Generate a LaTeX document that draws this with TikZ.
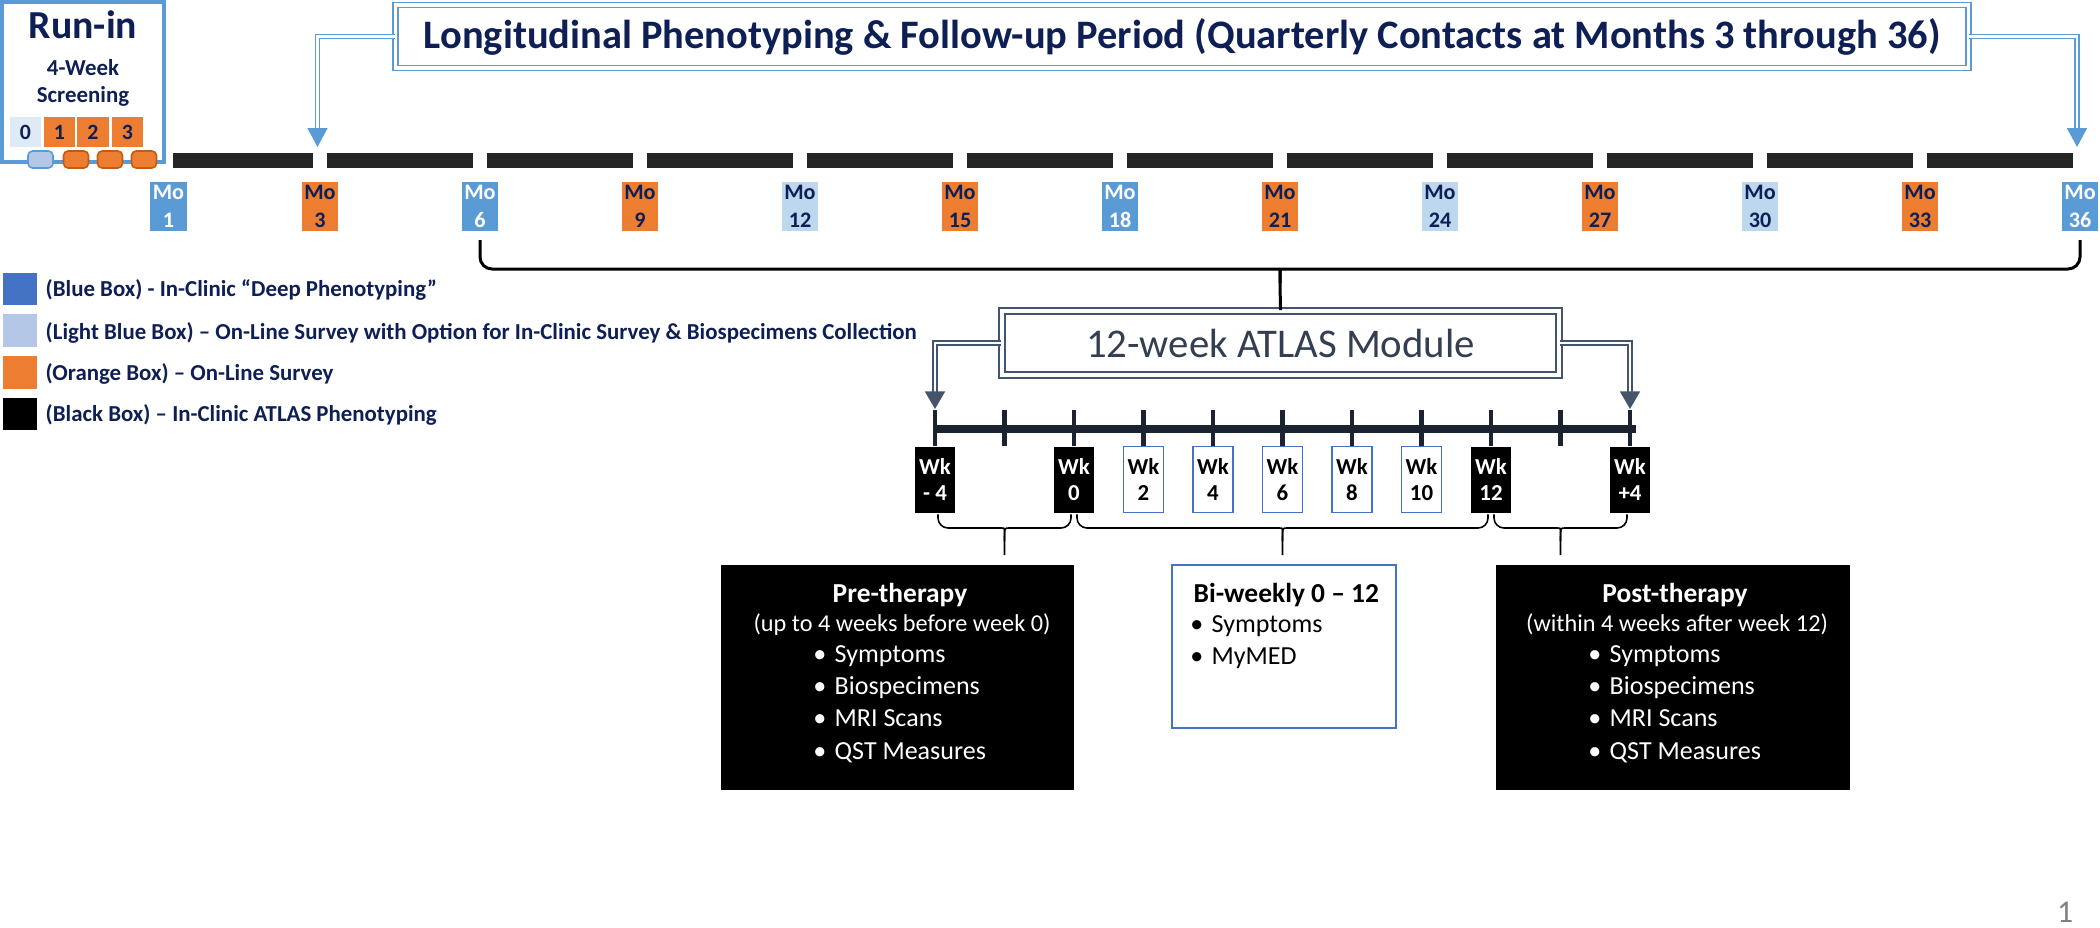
\documentclass[tikz,border=0pt]{standalone}
\usepackage{fontspec}
\setmainfont{Carlito}
\usetikzlibrary{arrows.meta,calc}
\definecolor{navy}{HTML}{0E1F55}
\definecolor{mblue}{HTML}{5B9BD5}
\definecolor{lblue}{HTML}{BDD7EE}
\definecolor{morange}{HTML}{ED7D31}
\definecolor{borange}{HTML}{C55A11}
\definecolor{legblue}{HTML}{4472C4}
\definecolor{leglight}{HTML}{B4C7E7}
\definecolor{pale}{HTML}{DEEBF7}
\definecolor{slate}{HTML}{44546A}
\definecolor{slatetext}{HTML}{333F50}
\definecolor{barfill}{HTML}{262626}
\definecolor{timebar}{HTML}{1B2230}
\newcommand{\fsz}[2]{\fontsize{#1}{#2}\selectfont}
\newcommand{\bl}{\llap{•\hspace{2.4pt}}}
\begin{document}
\begin{tikzpicture}[x=0.01cm, y=-0.01cm,
  mo/.style={minimum width=0.36cm, minimum height=0.48cm, inner sep=0pt, align=center, font=\fsz{6.3pt}{8pt}\bfseries},
  moB/.style={mo, fill=mblue, text=white},
  moO/.style={mo, fill=morange, text=navy},
  moL/.style={mo, fill=lblue, text=navy},
  wk/.style={minimum width=0.40cm, minimum height=0.66cm, inner sep=0pt, align=center, font=\fsz{6.5pt}{7.4pt}\bfseries},
  wkB/.style={wk, fill=black, text=white},
  wkW/.style={wk, fill=white, draw=legblue, line width=0.4pt, text=black},
  rnum/.style={minimum width=0.31cm, minimum height=0.30cm, inner sep=0pt, font=\fsz{6.2pt}{7pt}\bfseries, text=navy},
  rsm/.style={minimum width=0.25cm, minimum height=0.17cm, inner sep=0pt, rounded corners=1.3pt, line width=0.45pt},
  barstyle/.style={fill=barfill},
  dblB/.style={draw=mblue, double=white, double distance=0.7pt, line width=0.4pt},
  dblS/.style={draw=slate, double=white, double distance=0.7pt, line width=0.4pt},
  tipB/.style={-{Triangle[width=5.7pt,length=5.4pt]}, draw=mblue, fill=mblue, line width=0.4pt},
  tipS/.style={-{Triangle[width=5.7pt,length=5pt]}, draw=slate, fill=slate, line width=0.4pt},
  brc/.style={line width=0.85pt, rounded corners=0.12cm},
  brcs/.style={line width=0.45pt, rounded corners=0.1cm},
  legsq/.style={minimum width=0.34cm, minimum height=0.32cm, inner sep=0pt},
  legtxt/.style={anchor=base west, inner sep=0pt, font=\fsz{6.5pt}{8pt}\bfseries, text=navy},
  hdr/.style={anchor=base, inner sep=0pt, font=\fsz{7.8pt}{9pt}\bfseries},
  sbt/.style={anchor=base, inner sep=0pt, font=\fsz{6.9pt}{8pt}},
  itm/.style={anchor=base west, inner sep=0pt, font=\fsz{7.4pt}{9pt}},
  tick/.style={line width=1.4pt, draw=timebar}
]
\useasboundingbox (0,0) rectangle (2100,927);

% ---------- Run-in ----------
\node[draw=mblue, line width=1.14pt, minimum width=1.62cm, minimum height=1.595cm, inner sep=0pt] (runin) at (83,81.75) {};
\node[anchor=base, inner sep=0pt, font=\fsz{11.3pt}{13pt}\bfseries, text=navy] (rtitle) at (83,38.5) {Run-in};
\node[anchor=base, inner sep=0pt, font=\fsz{6.5pt}{8pt}\bfseries, text=navy] (r4w) at (83,75) {4-Week};
\node[anchor=base, inner sep=0pt, font=\fsz{6.5pt}{8pt}\bfseries, text=navy] (rscr) at (83,102) {Screening};
\node[rnum, fill=pale] (r0) at (25.5,132) {0};
\node[rnum, fill=morange] (r1) at (59.5,132) {1};
\node[rnum, fill=morange] (r2) at (93,132) {2};
\node[rnum, fill=morange] (r3) at (127.5,132) {3};
\node[rsm, fill=leglight, draw=mblue] (s0) at (40.5,159.5) {};
\node[rsm, fill=morange, draw=borange] (s1) at (76,159.5) {};
\node[rsm, fill=morange, draw=borange] (s2) at (110,159.5) {};
\node[rsm, fill=morange, draw=borange] (s3) at (144,159.5) {};

% ---------- month bars ----------
\fill[barstyle] (173,153) rectangle (313,168);
\foreach \i in {0,...,10} {\fill[barstyle] ({327+160*\i},153) rectangle ({473+160*\i},168);}

% ---------- month labels ----------
\node[moB] (mo1) at (168.5,206.5) {Mo\\1};
\node[moO] (mo3) at (320,206.5) {Mo\\3};
\node[moB] (mo6) at (480,206.5) {Mo\\6};
\node[moO] (mo9) at (640,206.5) {Mo\\9};
\node[moL] (mo12) at (800,206.5) {Mo\\12};
\node[moO] (mo15) at (960,206.5) {Mo\\15};
\node[moB] (mo18) at (1120,206.5) {Mo\\18};
\node[moO] (mo21) at (1280,206.5) {Mo\\21};
\node[moL] (mo24) at (1440,206.5) {Mo\\24};
\node[moO] (mo27) at (1600,206.5) {Mo\\27};
\node[moL] (mo30) at (1760,206.5) {Mo\\30};
\node[moO] (mo33) at (1920,206.5) {Mo\\33};
\node[moB] (mo36) at (2080,206.5) {Mo\\36};

% ---------- title ----------
\node[dblB, line width=0.45pt, double distance=1pt, fill=white, minimum width=15.72cm, minimum height=0.63cm, inner sep=0pt,
      font=\fsz{11.5pt}{13pt}\bfseries, text=navy] (title) at (1182,36.5)
      {Longitudinal Phenotyping \& Follow-up Period (Quarterly Contacts at Months 3 through 36)};
\coordinate (tlb) at (317.5,128);
\coordinate (tlt) at (317.5,147);
\coordinate (trb) at (2077,128);
\coordinate (trt) at (2077,147);
\draw[dblB] (title.west) -| (tlb);
\draw[tipB] (tlb) -- (tlt);
\draw[dblB] (title.east) -| (trb);
\draw[tipB] (trb) -- (trt);

% ---------- legend ----------
\node[legsq, fill=legblue] (lg1) at (20,289) {};
\node[legsq, fill=leglight] (lg2) at (20,330.5) {};
\node[legsq, fill=morange] (lg3) at (20,372.5) {};
\node[legsq, fill=black] (lg4) at (20,414) {};
\node[legtxt] (lt1) at (45,296) {(Blue Box) - In-Clinic “Deep Phenotyping”};
\node[legtxt] (lt2) at (45,339) {(Light Blue Box) – On-Line Survey with Option for In-Clinic Survey \& Biospecimens Collection};
\node[legtxt] (lt3) at (45,380) {(Orange Box) – On-Line Survey};
\node[legtxt] (lt4) at (45,421) {(Black Box) – In-Clinic ATLAS Phenotyping};

% ---------- ATLAS module ----------
\node[draw=slate, double=white, double distance=1.2pt, line width=0.45pt, minimum width=5.57cm, minimum height=0.64cm, inner sep=0pt,
      font=\fsz{11.6pt}{13pt}, text=slatetext] (atlas) at (1280.5,343) {12-week ATLAS Module};
\coordinate (b6) at (480,240);
\coordinate (b36) at (2080,240);
\draw[brc] (b6) |- (1266,269) .. controls (1280,269) .. (1280,283) -- (atlas.north);
\draw[brc] (b36) |- (1294,269) .. controls (1280,269) .. (1280,283);

% ---------- week timeline ----------
\coordinate (tl0) at (933,429);
\coordinate (tl1) at (1636,429);
\draw[line width=2.3pt, draw=timebar] (tl0) -- (tl1);
\foreach \i in {0,...,10} {\draw[tick] ({935+69.5*\i},410) -- ({935+69.5*\i},446);}

\coordinate (alb) at (935,392);
\coordinate (alt) at (935,409);
\coordinate (arb) at (1630,392);
\coordinate (art) at (1630,409);
\draw[dblS] (atlas.west) -| (alb);
\draw[tipS] (alb) -- (alt);
\draw[dblS] (atlas.east) -| (arb);
\draw[tipS] (arb) -- (art);

\node[wkB, anchor=north] (wkm4) at (935,446) {Wk\\- 4};
\node[wkB, anchor=north] (wk0) at (1074,446) {Wk\\0};
\node[wkW, anchor=north] (wk2) at (1143.5,446) {Wk\\2};
\node[wkW, anchor=north] (wk4) at (1213,446) {Wk\\4};
\node[wkW, anchor=north] (wk6) at (1282.5,446) {Wk\\6};
\node[wkW, anchor=north] (wk8) at (1352,446) {Wk\\8};
\node[wkW, anchor=north] (wk10) at (1421.5,446) {Wk\\10};
\node[wkB, anchor=north] (wk12) at (1491,446) {Wk\\12};
\node[wkB, anchor=north] (wkp4) at (1630,446) {Wk\\+4};

% ---------- lower braces ----------
\draw[brcs] ($(wkm4.south)+(3,1)$) |- (990.5,528) .. controls (1004.5,528) .. (1004.5,541) -- (1004.5,555);
\draw[brcs] ($(wk0.south)+(-3,1)$) |- (1018.5,528) .. controls (1004.5,528) .. (1004.5,541);
\draw[brcs] ($(wk0.south)+(3,1)$) |- (1268.5,528) .. controls (1282.5,528) .. (1282.5,541) -- (1282.5,555);
\draw[brcs] ($(wk12.south)+(-3,1)$) |- (1296.5,528) .. controls (1282.5,528) .. (1282.5,541);
\draw[brcs] ($(wk12.south)+(3,1)$) |- (1546.5,528) .. controls (1560.5,528) .. (1560.5,541) -- (1560.5,555);
\draw[brcs] ($(wkp4.south)+(-3,1)$) |- (1574.5,528) .. controls (1560.5,528) .. (1560.5,541);

% ---------- boxes ----------
\node[fill=black, minimum width=3.53cm, minimum height=2.25cm, inner sep=0pt] (pre) at (897.5,677.5) {};
\node[hdr, text=white] (preh) at (900,602) {Pre-therapy};
\node[sbt, text=white] (pres) at (902,631) {(up to 4 weeks before week 0)};
\node[itm, text=white] (pre1) at (834,662) {\bl Symptoms};
\node[itm, text=white] (pre2) at (834,694) {\bl Biospecimens};
\node[itm, text=white] (pre3) at (834,726) {\bl MRI Scans};
\node[itm, text=white] (pre4) at (834,759) {\bl QST Measures};

\node[draw=legblue, line width=0.5pt, fill=white, minimum width=2.24cm, minimum height=1.63cm, inner sep=0pt] (bi) at (1284,646.5) {};
\node[hdr, anchor=base west, text=black] (bih) at (1193,602) {Bi-weekly 0 – 12};
\node[itm, text=black] (bi1) at (1211,632) {\bl Symptoms};
\node[itm, text=black] (bi2) at (1211,664) {\bl MyMED};

\node[fill=black, minimum width=3.54cm, minimum height=2.25cm, inner sep=0pt] (post) at (1673,677.5) {};
\node[hdr, text=white] (posth) at (1675,602) {Post-therapy};
\node[sbt, text=white] (posts) at (1677,631) {(within 4 weeks after week 12)};
\node[itm, text=white] (post1) at (1609,662) {\bl Symptoms};
\node[itm, text=white] (post2) at (1609,694) {\bl Biospecimens};
\node[itm, text=white] (post3) at (1609,726) {\bl MRI Scans};
\node[itm, text=white] (post4) at (1609,759) {\bl QST Measures};

% ---------- page number ----------
\node[font=\fsz{9pt}{10pt}, text=black!50, inner sep=0pt] (pg) at (2065,912) {1};
\end{tikzpicture}
\end{document}
